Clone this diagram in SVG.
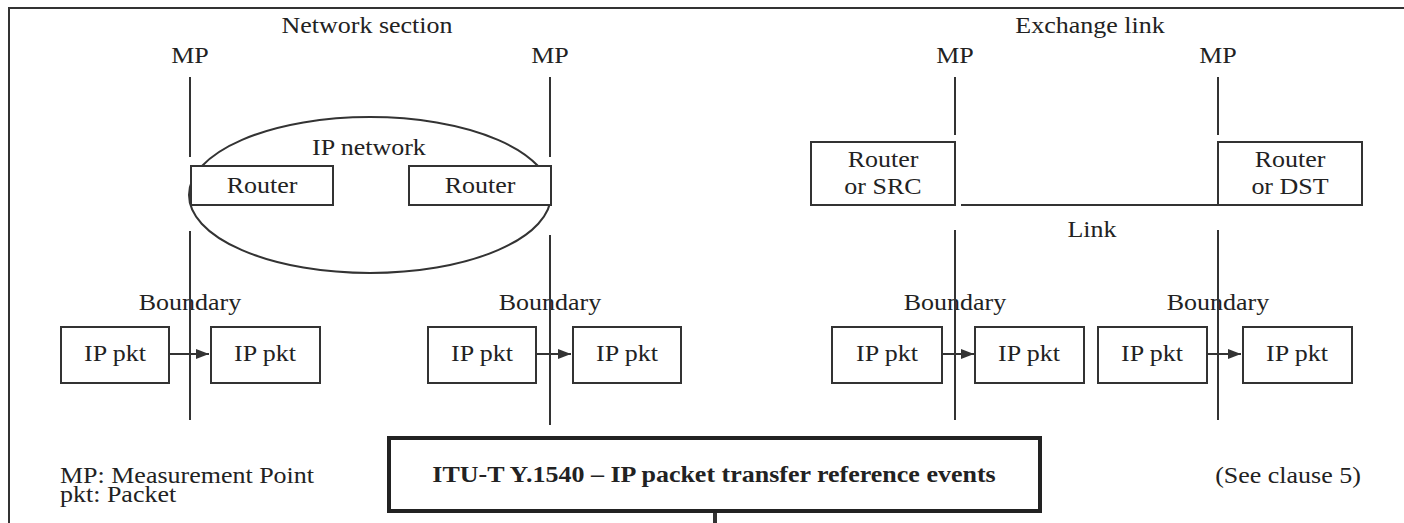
<svg xmlns="http://www.w3.org/2000/svg" width="1404" height="523" viewBox="0 0 1404 523">
<style>
text{font-family:"Liberation Serif","Times New Roman",serif;font-size:23px;fill:#222;text-anchor:middle;transform-box:fill-box;transform-origin:center;transform:scaleX(1.13)}
.b{fill:#fff;stroke:#333;stroke-width:2}
.ln{stroke:#333;stroke-width:2;fill:none}
.t{font-weight:bold}
.l{text-anchor:start;transform-origin:left center}
</style>
<defs>
<marker id="ah" markerWidth="14" markerHeight="10" refX="13" refY="5" orient="auto" markerUnits="userSpaceOnUse">
<path d="M0,0 L13,5 L0,10 Z" fill="#333"/>
</marker>
</defs>
<rect width="1404" height="523" fill="#fff"/>
<g id="frame" class="ln"><path d="M9,523 V8 H1404"/></g>
<g id="labels">
<text x="367" y="33">Network section</text>
<text x="1090" y="33">Exchange link</text>
<text x="190" y="63">MP</text>
<text x="550" y="63">MP</text>
<text x="955" y="63">MP</text>
<text x="1218" y="63">MP</text>
<text x="1092" y="237">Link</text>
<text x="190" y="310">Boundary</text>
<text x="550" y="310">Boundary</text>
<text x="955" y="310">Boundary</text>
<text x="1218" y="310">Boundary</text>
<text class="l" x="60" y="483">MP: Measurement Point</text>
<text class="l" x="60" y="502">pkt: Packet</text>
<text x="1288" y="483">(See clause 5)</text>
</g>
<g id="connectors" class="ln">
<path d="M190,77 V157 M550,77 V157 M955,77 V135 M1218,77 V135"/>
<path d="M190,231 V420 M550,235 V425 M955,230 V420 M1218,230 V420"/>
<path d="M961,205 H1218"/>
<path d="M169,354 H209" marker-end="url(#ah)"/>
<path d="M536,354 H571" marker-end="url(#ah)"/>
<path d="M942,354 H974" marker-end="url(#ah)"/>
<path d="M1207,354 H1241" marker-end="url(#ah)"/>
<path d="M715,511 V523" stroke-width="4"/>
</g>
<g id="ip-network">
<ellipse cx="370" cy="195" rx="181" ry="78" class="ln"/>
<text x="369" y="155">IP network</text>
</g>
<g id="router1"><rect class="b" x="191" y="166" width="142" height="39"/><text x="262" y="193">Router</text></g>
<g id="router2"><rect class="b" x="409" y="166" width="142" height="39"/><text x="480" y="193">Router</text></g>
<g id="router-src"><rect class="b" x="811" y="142" width="144" height="63"/><text x="883" y="167">Router</text><text x="883" y="194">or SRC</text></g>
<g id="router-dst"><rect class="b" x="1218" y="142" width="144" height="63"/><text x="1290" y="167">Router</text><text x="1290" y="194">or DST</text></g>
<g id="pkt1"><rect class="b" x="61" y="327" width="108" height="56"/><text x="115" y="361">IP pkt</text></g>
<g id="pkt2"><rect class="b" x="211" y="327" width="109" height="56"/><text x="265" y="361">IP pkt</text></g>
<g id="pkt3"><rect class="b" x="428" y="327" width="108" height="56"/><text x="482" y="361">IP pkt</text></g>
<g id="pkt4"><rect class="b" x="573" y="327" width="108" height="56"/><text x="627" y="361">IP pkt</text></g>
<g id="pkt5"><rect class="b" x="832" y="327" width="110" height="56"/><text x="887" y="361">IP pkt</text></g>
<g id="pkt6"><rect class="b" x="975" y="327" width="109" height="56"/><text x="1029" y="361">IP pkt</text></g>
<g id="pkt7"><rect class="b" x="1098" y="327" width="109" height="56"/><text x="1152" y="361">IP pkt</text></g>
<g id="pkt8"><rect class="b" x="1243" y="327" width="109" height="56"/><text x="1297" y="361">IP pkt</text></g>
<g id="title"><rect x="389" y="438" width="651" height="73" fill="#fff" stroke="#222" stroke-width="4"/><text class="t" x="714" y="482">ITU-T Y.1540 – IP packet transfer reference events</text></g>
</svg>
